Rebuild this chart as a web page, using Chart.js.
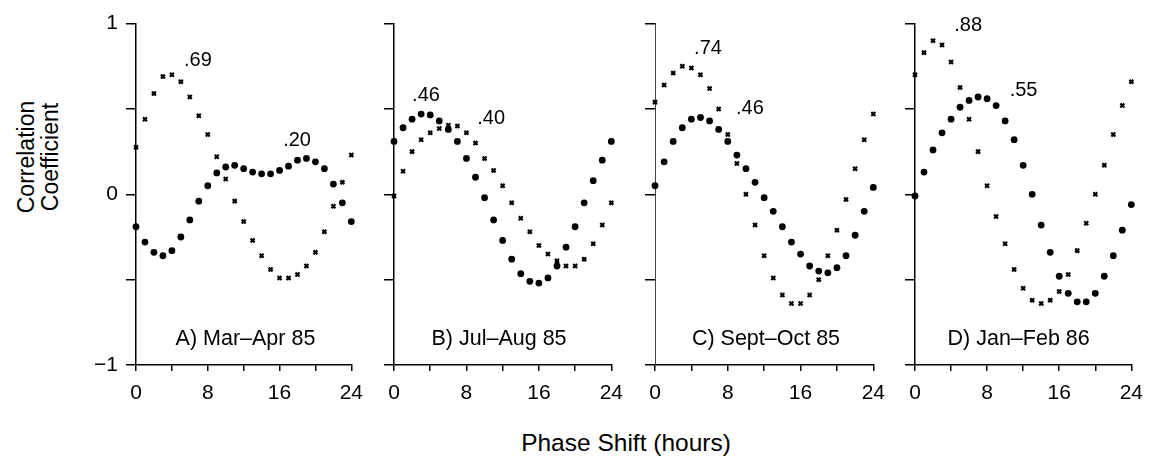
<!DOCTYPE html>
<html>
<head>
<meta charset="utf-8">
<script src="https://cdn.jsdelivr.net/npm/chart.js@4.4.0/dist/chart.umd.min.js"></script>
<style>
  body { margin:0; background:#fff; width:1156px; height:472px; position:relative; overflow:hidden;
         font-family:"Liberation Sans", Arial, sans-serif; color:#000; }
  .painel { position:absolute; top:3px; height:422px; }
  .tituloY { position:absolute; left:38px; top:157px; transform:translate(-50%,-50%) rotate(-90deg);
             font-size:23px; line-height:24px; text-align:center; white-space:nowrap; }
  .tituloX { position:absolute; left:626px; top:443px; transform:translate(-50%,-50%);
             font-size:24.5px; white-space:nowrap; }
</style>
</head>
<body>
<div class="tituloY">Correlation<br>Coefficient</div>
<div class="tituloX">Phase Shift (hours)</div>
<div class="painel" id="pA"><canvas id="cvsA"></canvas></div>
<div class="painel" id="pB"><canvas id="cvsB"></canvas></div>
<div class="painel" id="pC"><canvas id="cvsC"></canvas></div>
<div class="painel" id="pD"><canvas id="cvsD"></canvas></div>
<script>
// dados (defasagem em horas)
const horas = [0,1,2,3,4,5,6,7,8,9,10,11,12,13,14,15,16,17,18,19,20,21,22,23,24];

// A) Mar-Apr 85
const pontosA = [-0.19,-0.28,-0.34,-0.36,-0.33,-0.25,-0.15,-0.04,0.05,0.125,0.16,0.17,0.15,0.13,0.12,0.12,0.14,0.165,0.2,0.21,0.19,0.15,0.06,-0.05,-0.16];
const cruzesA = [0.275,0.44,0.59,0.69,0.70,0.66,0.57,0.46,0.35,0.22,0.09,-0.04,-0.16,-0.27,-0.36,-0.44,-0.49,-0.49,-0.47,-0.42,-0.34,-0.22,-0.07,0.07,0.23];
// B) Jul-Aug 85
const pontosB = [0.31,0.39,0.44,0.47,0.465,0.43,0.38,0.31,0.21,0.10,-0.02,-0.15,-0.27,-0.38,-0.465,-0.51,-0.52,-0.49,-0.42,-0.31,-0.19,-0.05,0.08,0.20,0.31];
const cruzesB = [-0.01,0.135,0.25,0.32,0.36,0.385,0.405,0.40,0.36,0.30,0.21,0.14,0.05,-0.05,-0.14,-0.22,-0.30,-0.35,-0.39,-0.42,-0.42,-0.38,-0.29,-0.18,-0.05];
// C) Sept-Oct 85
const pontosC = [0.05,0.19,0.31,0.39,0.44,0.45,0.43,0.38,0.31,0.23,0.15,0.07,-0.02,-0.10,-0.19,-0.28,-0.35,-0.42,-0.45,-0.46,-0.43,-0.36,-0.24,-0.10,0.04];
const cruzesC = [0.54,0.64,0.71,0.75,0.74,0.70,0.62,0.50,0.35,0.18,0.0,-0.18,-0.36,-0.49,-0.59,-0.64,-0.64,-0.59,-0.50,-0.36,-0.21,-0.03,0.15,0.32,0.47];
// D) Jan-Feb 86
const pontosD = [-0.01,0.13,0.26,0.36,0.44,0.51,0.55,0.57,0.56,0.52,0.43,0.32,0.17,0.0,-0.18,-0.34,-0.48,-0.58,-0.63,-0.63,-0.58,-0.48,-0.36,-0.21,-0.06];
const cruzesD = [0.70,0.83,0.90,0.875,0.775,0.625,0.44,0.25,0.05,-0.13,-0.29,-0.44,-0.55,-0.62,-0.64,-0.62,-0.57,-0.47,-0.33,-0.17,0.0,0.17,0.35,0.52,0.66];

const nomesPaineis = ["A) Mar\u2013Apr 85", "B) Jul\u2013Aug 85", "C) Sept\u2013Oct 85", "D) Jan\u2013Feb 86"];
const picosTextos = [[".69", ".20"], [".46", ".40"], [".74", ".46"], [".88", ".55"]];
const yTicksLabels = ["\u22121", "0", "1"];

// posicoes (px) dos paineis e dos rotulos
const eixoX = [136, 394, 655, 915];
const fimX = [357, 617, 879, 1137];
const nomeHora = [12.2, 11.6, 12.2, 11.5];
const picoHora = [[5.35, 16.4], [2.0, 9.2], [4.3, 8.9], [4.35, 10.5]];
const picoY = [[0.785, 0.317], [0.577, 0.444], [0.854, 0.502], [0.99, 0.606]];

const fonte = '"Liberation Sans", Arial, sans-serif';
const larguraY = 45, padDir = 16;

// escreve os rotulos dos picos e o nome do painel
const rotulosPlugin = {
  id: "rotulos",
  afterDatasetsDraw(chart, args, opts) {
    const ctx = chart.ctx;
    const x = chart.scales.x, y = chart.scales.y;
    ctx.save();
    ctx.fillStyle = "#000";
    ctx.textBaseline = "middle";
    ctx.font = "20px " + fonte;
    ctx.textAlign = "left";
    opts.picos.forEach(p => ctx.fillText(p.texto, x.getPixelForValue(p.h), y.getPixelForValue(p.y)));
    ctx.font = "21.5px " + fonte;
    ctx.textAlign = "center";
    ctx.fillText(opts.nome, x.getPixelForValue(opts.nomeH), y.getPixelForValue(-0.85));
    ctx.restore();
  }
};

const ids = ["A", "B", "C", "D"];
const pontos = [pontosA, pontosB, pontosC, pontosD];
const cruzes = [cruzesA, cruzesB, cruzesC, cruzesD];

ids.forEach((id, i) => {
  const div = document.getElementById("p" + id);
  div.style.left = (eixoX[i] - larguraY) + "px";
  div.style.width = (larguraY + (fimX[i] - eixoX[i]) + padDir) + "px";

  const picos = picosTextos[i].map((t, k) => ({ texto: t, h: picoHora[i][k], y: picoY[i][k] }));

  new Chart(document.getElementById("cvs" + id), {
    type: "scatter",
    data: {
      datasets: [
        {
          label: "circulos",
          data: horas.map((h, k) => ({ x: h, y: pontos[i][k] })),
          pointStyle: "circle",
          pointRadius: 3.4,
          backgroundColor: "#000",
          borderColor: "#000",
          borderWidth: 0,
          clip: false
        },
        {
          label: "cruzes",
          data: horas.map((h, k) => ({ x: h, y: cruzes[i][k] })),
          pointStyle: "crossRot",
          pointRadius: 2.8,
          borderColor: "#000",
          borderWidth: 2.2,
          clip: false
        }
      ]
    },
    options: {
      responsive: true,
      maintainAspectRatio: false,
      animation: false,
      events: [],
      layout: { padding: { top: 14, right: padDir, left: 0, bottom: 0 } },
      plugins: {
        legend: { display: false },
        tooltip: { enabled: false },
        rotulos: { picos: picos, nome: nomesPaineis[i], nomeH: nomeHora[i] }
      },
      scales: {
        x: {
          type: "linear",
          min: 0, max: 24,
          afterFit: s => { s.height = 60; },
          border: { display: true, color: "#000", width: 1.5 },
          grid: { drawOnChartArea: false, drawTicks: true, tickLength: 6, color: "#000", lineWidth: 1.5 },
          ticks: {
            stepSize: 4,
            padding: 10,
            color: "#000",
            font: { family: fonte, size: 21 },
            maxRotation: 0,
            autoSkip: false,
            callback: v => (v % 8 === 0 ? String(v) : "")
          }
        },
        y: {
          type: "linear",
          min: -1, max: 1,
          afterFit: s => { s.width = larguraY; },
          border: i === 2
            ? { display: true, color: "#444", width: 1, dash: [6, 3] }
            : { display: true, color: "#000", width: 1.5 },
          grid: { drawOnChartArea: false, drawTicks: true, tickLength: 10, color: "#000", lineWidth: 1.5 },
          ticks: {
            stepSize: 0.5,
            padding: 8,
            color: "#000",
            font: { family: fonte, size: 21 },
            callback: v => {
              if (i !== 0) return "";
              if (v === -1) return yTicksLabels[0];
              if (v === 0) return yTicksLabels[1];
              if (v === 1) return yTicksLabels[2];
              return "";
            }
          }
        }
      }
    },
    plugins: [rotulosPlugin]
  });
});
</script>
</body>
</html>
